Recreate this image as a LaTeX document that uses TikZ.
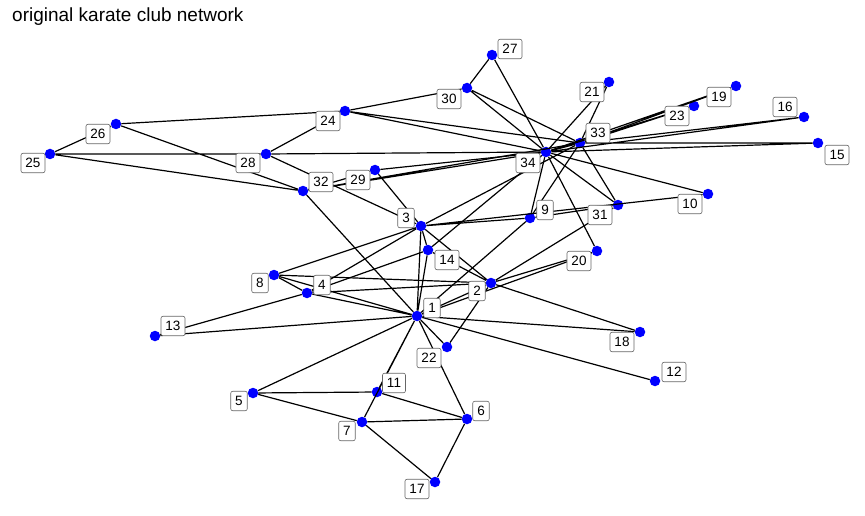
\documentclass[tikz,border=0pt]{standalone}
\usepackage{fontspec}
\setmainfont{Liberation Sans}
\usepackage{tikz}
\usetikzlibrary{positioning,calc}

\begin{document}
\begin{tikzpicture}[x=1pt, y=-1pt,
    dot/.style={circle, fill=blue, inner sep=0pt, minimum size=10.5pt},
    edge/.style={line width=1.2pt, black},
    lbl/.style={draw=black!60, line width=0.6pt, fill=white, rounded corners=2pt,
        inner xsep=4.5pt, inner ysep=0pt, minimum height=19.5pt, minimum width=16.5pt,
        font=\fontsize{13.5}{13.5}\selectfont}]
    \useasboundingbox (0,0) rectangle (865,516);

    % title
    \node [anchor=base west, inner sep=0pt, font=\fontsize{19}{19}\selectfont] (title) at (12,22) {original karate club network};

    % members
    \node [dot] (n1) at (417,316) {};
    \node [dot] (n2) at (491,283) {};
    \node [dot] (n3) at (421,226) {};
    \node [dot] (n4) at (307,293) {};
    \node [dot] (n5) at (253,393) {};
    \node [dot] (n6) at (467,419) {};
    \node [dot] (n7) at (362,422) {};
    \node [dot] (n8) at (274,275) {};
    \node [dot] (n9) at (530,218) {};
    \node [dot] (n10) at (708,194) {};
    \node [dot] (n11) at (377,392) {};
    \node [dot] (n12) at (655,381) {};
    \node [dot] (n13) at (155,336) {};
    \node [dot] (n14) at (428,250) {};
    \node [dot] (n15) at (818,143) {};
    \node [dot] (n16) at (804,117) {};
    \node [dot] (n17) at (435,482) {};
    \node [dot] (n18) at (640,332) {};
    \node [dot] (n19) at (736,86) {};
    \node [dot] (n20) at (597,251) {};
    \node [dot] (n21) at (609,82) {};
    \node [dot] (n22) at (447,347) {};
    \node [dot] (n23) at (694,106) {};
    \node [dot] (n24) at (345,111) {};
    \node [dot] (n25) at (50,154) {};
    \node [dot] (n26) at (116,124) {};
    \node [dot] (n27) at (492,55) {};
    \node [dot] (n28) at (266,154) {};
    \node [dot] (n29) at (375,170) {};
    \node [dot] (n30) at (467,88) {};
    \node [dot] (n31) at (618,205) {};
    \node [dot] (n32) at (303,191) {};
    \node [dot] (n33) at (580,143) {};
    \node [dot] (n34) at (546,152) {};

    % ties
    \draw [edge] (n1) -- (n2) (n1) -- (n3) (n1) -- (n4) (n1) -- (n5) (n1) -- (n6) (n1) -- (n7)
        (n1) -- (n8) (n1) -- (n9) (n1) -- (n11) (n1) -- (n12) (n1) -- (n13) (n1) -- (n14)
        (n1) -- (n18) (n1) -- (n20) (n1) -- (n22) (n1) -- (n32);
    \draw [edge] (n2) -- (n3) (n2) -- (n4) (n2) -- (n8) (n2) -- (n14) (n2) -- (n18)
        (n2) -- (n20) (n2) -- (n22) (n2) -- (n31);
    \draw [edge] (n3) -- (n4) (n3) -- (n8) (n3) -- (n9) (n3) -- (n10) (n3) -- (n14)
        (n3) -- (n28) (n3) -- (n29) (n3) -- (n33);
    \draw [edge] (n4) -- (n8) (n4) -- (n13) (n4) -- (n14);
    \draw [edge] (n5) -- (n7) (n5) -- (n11);
    \draw [edge] (n6) -- (n7) (n6) -- (n11) (n6) -- (n17) (n7) -- (n17);
    \draw [edge] (n9) -- (n31) (n9) -- (n33) (n9) -- (n34);
    \draw [edge] (n10) -- (n34) (n14) -- (n34) (n20) -- (n34);
    \draw [edge] (n15) -- (n33) (n15) -- (n34) (n16) -- (n33) (n16) -- (n34);
    \draw [edge] (n19) -- (n33) (n19) -- (n34) (n21) -- (n33) (n21) -- (n34);
    \draw [edge] (n23) -- (n33) (n23) -- (n34);
    \draw [edge] (n24) -- (n26) (n24) -- (n28) (n24) -- (n30) (n24) -- (n33) (n24) -- (n34);
    \draw [edge] (n25) -- (n26) (n25) -- (n28) (n25) -- (n32) (n26) -- (n32);
    \draw [edge] (n27) -- (n30) (n27) -- (n34) (n28) -- (n34);
    \draw [edge] (n29) -- (n32) (n29) -- (n34) (n30) -- (n33) (n30) -- (n34);
    \draw [edge] (n31) -- (n33) (n31) -- (n34) (n32) -- (n33) (n32) -- (n34);
    \draw [edge] (n33) -- (n34);

    % labels
    \node [lbl] (l1) at ($(n1)+(15,-8)$) {1};
    \node [lbl] (l2) at ($(n2)+(-14,8)$) {2};
    \node [lbl] (l3) at ($(n3)+(-15,-8)$) {3};
    \node [lbl] (l4) at ($(n4)+(15,-8)$) {4};
    \node [lbl] (l5) at ($(n5)+(-14,8)$) {5};
    \node [lbl] (l6) at ($(n6)+(14,-8)$) {6};
    \node [lbl] (l7) at ($(n7)+(-15,9)$) {7};
    \node [lbl] (l8) at ($(n8)+(-14,8)$) {8};
    \node [lbl] (l9) at ($(n9)+(15,-8)$) {9};
    \node [lbl] (l10) at ($(n10)+(-18,10)$) {10};
    \node [lbl] (l11) at ($(n11)+(17,-9)$) {11};
    \node [lbl] (l12) at ($(n12)+(19,-9)$) {12};
    \node [lbl] (l13) at ($(n13)+(18,-10)$) {13};
    \node [lbl] (l14) at ($(n14)+(19,10)$) {14};
    \node [lbl] (l15) at ($(n15)+(19,12)$) {15};
    \node [lbl] (l16) at ($(n16)+(-19,-10)$) {16};
    \node [lbl] (l17) at ($(n17)+(-18,7)$) {17};
    \node [lbl] (l18) at ($(n18)+(-18,10)$) {18};
    \node [lbl] (l19) at ($(n19)+(-17,11)$) {19};
    \node [lbl] (l20) at ($(n20)+(-18,10)$) {20};
    \node [lbl] (l21) at ($(n21)+(-17,10)$) {21};
    \node [lbl] (l22) at ($(n22)+(-18,11)$) {22};
    \node [lbl] (l23) at ($(n23)+(-17,10)$) {23};
    \node [lbl] (l24) at ($(n24)+(-17,10)$) {24};
    \node [lbl] (l25) at ($(n25)+(-17,9)$) {25};
    \node [lbl] (l26) at ($(n26)+(-18,10)$) {26};
    \node [lbl] (l27) at ($(n27)+(18,-6)$) {27};
    \node [lbl] (l28) at ($(n28)+(-18,9)$) {28};
    \node [lbl] (l29) at ($(n29)+(-17,10)$) {29};
    \node [lbl] (l30) at ($(n30)+(-18,11)$) {30};
    \node [lbl] (l31) at ($(n31)+(-18,10)$) {31};
    \node [lbl] (l32) at ($(n32)+(18,-9)$) {32};
    \node [lbl] (l33) at ($(n33)+(18,-10)$) {33};
    \node [lbl] (l34) at ($(n34)+(-18,11)$) {34};

\end{tikzpicture}
\end{document}
